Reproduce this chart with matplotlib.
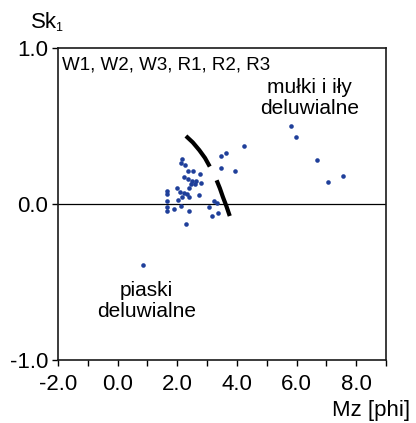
import matplotlib
matplotlib.use("Agg")
import matplotlib.pyplot as plt
import numpy as np

plt.rcParams['font.family'] = ['Liberation Sans', 'DejaVu Sans']

# Data: Mz [phi] (x) vs Sk1 (y)
mz = [1.67, 1.67, 1.67, 1.67, 1.67,
      2.17, 2.13, 2.27, 2.37, 2.53, 2.77,
      2.23, 2.37, 2.50, 2.63, 2.60, 2.47, 2.80,
      2.00, 2.10, 2.23, 2.17, 2.03, 2.40, 2.33, 2.40, 2.73,
      2.13, 2.40, 2.30, 1.90,
      3.23, 3.32, 3.07, 3.17, 3.37,
      3.47, 3.63, 3.47, 3.93, 4.23,
      5.82, 5.98, 6.68, 7.07, 7.57,
      0.84]
sk = [0.064, 0.083, 0.02, -0.02, -0.045,
      0.29, 0.26, 0.25, 0.21, 0.21, 0.19,
      0.17, 0.16, 0.15, 0.15, 0.13, 0.13, 0.135,
      0.10, 0.08, 0.07, 0.045, 0.026, 0.10, 0.064, 0.045, 0.058,
      -0.013, -0.045, -0.13, -0.03,
      0.02, 0.008, -0.02, -0.077, -0.058,
      0.31, 0.33, 0.23, 0.21, 0.37,
      0.50, 0.43, 0.28, 0.14, 0.18,
      -0.39]

# boundary curve (two dashes of one arc)
bound1_x = [2.29, 2.52, 2.74, 2.93, 3.09]
bound1_y = [0.436, 0.395, 0.345, 0.295, 0.24]
bound2_x = [3.32, 3.43, 3.53, 3.65, 3.76]
bound2_y = [0.152, 0.10, 0.045, -0.015, -0.077]

xticks = [-2, -1, 0, 1, 2, 3, 4, 5, 6, 7, 8, 9]
xlabels = ['-2.0', '', '0.0', '', '2.0', '', '4.0', '', '6.0', '', '8.0', '']
yticks = [-1, 0, 1]
ylabels = ['-1.0', '0.0', '1.0']

fig = plt.figure(figsize=(4.16, 4.23), dpi=100)
ax = fig.add_axes([58/416, 1-360/423, (386-58)/416, (360-48)/423])

ax.axhline(0, color='black', lw=0.9, zorder=1)
ax.plot(bound1_x, bound1_y, color='black', lw=3.0, solid_capstyle='butt', zorder=2)
ax.plot(bound2_x, bound2_y, color='black', lw=3.0, solid_capstyle='butt', zorder=2)
ax.plot(mz, sk, 'o', ms=3.3, color='#1f3f9a', mec='none', zorder=3)

ax.set_xlim(-2, 9)
ax.set_ylim(-1, 1)
ax.set_xticks(xticks)
ax.set_xticklabels(xlabels)
ax.set_yticks(yticks)
ax.set_yticklabels(ylabels)
ax.tick_params(axis='both', direction='out', length=4, width=1.0, labelsize=16, colors='black')
ax.tick_params(axis='x', pad=6)
ax.tick_params(axis='y', pad=3)
for s in ax.spines.values():
    s.set_linewidth(1.2)
    s.set_color('#1a1a1a')

ax.text(0.012, 0.972, 'W1, W2, W3, R1, R2, R3', transform=ax.transAxes,
        ha='left', va='top', fontsize=13.5)
ax.text(6.43, 0.68, 'mułki i iły\ndeluwialne', ha='center', va='center',
        fontsize=15, linespacing=1.15)
ax.text(0.97, -0.62, 'piaski\ndeluwialne', ha='center', va='center',
        fontsize=15, linespacing=1.15)

fig.text(44/416, 1-22/423, 'Sk', ha='center', va='center', fontsize=16)
fig.text(59/416, 1-28/423, '1', ha='center', va='center', fontsize=9)
fig.text(410/416, 1-410/423, 'Mz [phi]', ha='right', va='center', fontsize=16)

fig.savefig('out.png', dpi=100)
